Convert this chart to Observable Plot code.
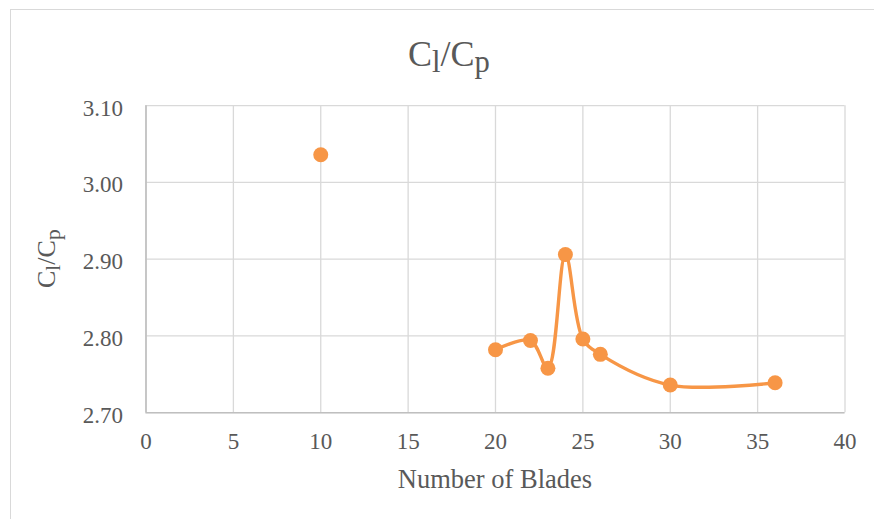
<!DOCTYPE html>
<html>
<head>
<meta charset="utf-8">
<script src="https://cdn.jsdelivr.net/npm/d3@7"></script>
<script src="https://cdn.jsdelivr.net/npm/@observablehq/plot@0.6"></script>
<style>
  html, body { margin: 0; padding: 0; background: #fff; overflow: hidden; }
  #chart {
    position: absolute; left: 10px; top: 9px; width: 876px;
    border-top: 1.5px solid #d9d9d9; border-left: 1.5px solid #d9d9d9;
    background: #fff;
    font-family: "Liberation Serif", "Times New Roman", serif; color: #595959;
  }
  #title {
    height: 80px; box-sizing: border-box; padding-top: 8px; line-height: 72px;
    text-align: center; font-size: 36px; white-space: nowrap;
  }
  #title sub { font-size: 0.85em; vertical-align: -0.2em; line-height: 0; }
  svg { display: block; }
</style>
</head>
<body>
<div id="chart">
  <div id="title">C<sub>l</sub>/C<sub>p</sub></div>
</div>
<script>
// Lift-to-pressure coefficient ratio for each blade count
const blades = [10, 20, 22, 23, 24, 25, 26, 30, 36];
const ratio = [3.036, 2.782, 2.794, 2.758, 2.906, 2.796, 2.776, 2.736, 2.739];

const xTicks = [0, 5, 10, 15, 20, 25, 30, 35, 40];
const yTicks = [2.7, 2.8, 2.9, 3.0, 3.1];

const xTitle = "Number of Blades";

const orange = "#f79646";
const data = blades.map((b, i) => ({blades: b, ratio: ratio[i]}));
// the 10-blade case stands alone; the smoothed curve joins the runs from 20 blades up
const curvePts = data.filter(d => d.blades >= 20);

const W = 876, H = 429;
const mL = 134.5, mR = 42.5, mT = 15.2, mB = 106.8;

const chart = Plot.plot({
  width: W, height: H,
  marginLeft: mL, marginRight: mR, marginTop: mT, marginBottom: mB,
  style: {
    fontFamily: "'Liberation Serif', 'Times New Roman', serif",
    fontSize: "23px", color: "#595959", background: "transparent", overflow: "visible"
  },
  x: {domain: [0, 40]},
  y: {domain: [2.7, 3.1]},
  marks: [
    Plot.gridX(xTicks, {stroke: "#d9d9d9", strokeOpacity: 1, strokeWidth: 1.3}),
    Plot.gridY(yTicks, {stroke: "#d9d9d9", strokeOpacity: 1, strokeWidth: 1.3}),
    Plot.ruleX([0], {stroke: "#bfbfbf", strokeWidth: 1.6}),
    Plot.ruleY([2.7], {stroke: "#bfbfbf", strokeWidth: 1.6}),
    Plot.axisX(xTicks, {tickSize: 0, tickPadding: 20, label: null}),
    Plot.axisY(yTicks, {tickSize: 0, tickPadding: 23, label: null, tickFormat: d3.format(".2f"), dy: 2.5}),
    Plot.line(curvePts, {x: "blades", y: "ratio", curve: "catmull-rom", stroke: orange, strokeWidth: 3.4}),
    Plot.dot(data, {x: "blades", y: "ratio", r: 7.5, fill: orange, stroke: "none"})
  ]
});

const svg = d3.select(chart);

// x axis title, centred under the plot area
svg.append("text")
  .attr("x", (mL + (W - mR)) / 2)
  .attr("y", H - mB + 75.6)
  .attr("text-anchor", "middle")
  .attr("font-size", 26.5)
  .attr("fill", "#595959")
  .text(xTitle);

// y axis title with subscripts, rotated
const yt = svg.append("text")
  .attr("transform", `translate(44,${(mT + (H - mB)) / 2}) rotate(-90)`)
  .attr("text-anchor", "middle")
  .attr("font-size", 26)
  .attr("fill", "#595959");
yt.append("tspan").text("C");
yt.append("tspan").attr("font-size", 21.5).attr("dy", 5).text("l");
yt.append("tspan").attr("dy", -5).text("/C");
yt.append("tspan").attr("font-size", 21.5).attr("dy", 5).text("p");

document.getElementById("chart").appendChild(chart);
</script>
</body>
</html>
